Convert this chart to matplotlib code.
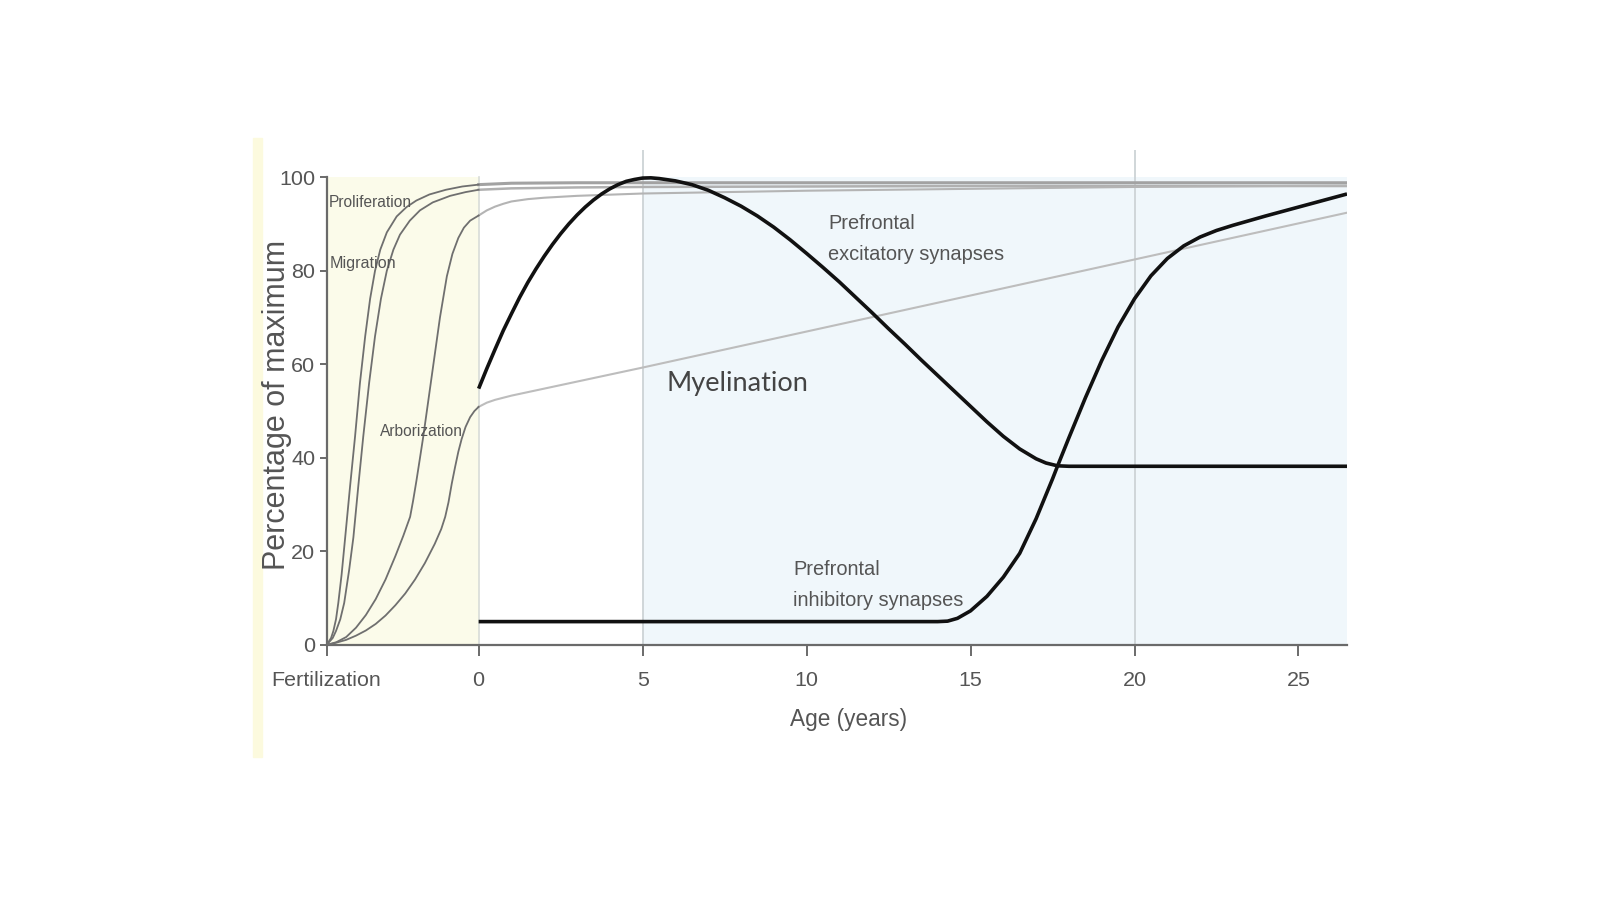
import matplotlib
matplotlib.use("Agg")
import matplotlib.pyplot as plt
from matplotlib import font_manager
from matplotlib.patches import Rectangle

# x values are years after birth; the prenatal part is squeezed left of 0
FERT = -4.64
X_END = 26.48

tick_pos = [FERT, 0, 5, 10, 15, 20, 25]
tick_labels = ["Fertilization", "0", "5", "10", "15", "20", "25"]

# prenatal curves (all start at fertilization)
prolif_x = [FERT, -4.5, -4.43, -4.35, -4.28, -4.18, -4.07, -3.92, -3.77, -3.62, -3.46,
            -3.31, -3.16, -3.0, -2.8, -2.5, -2.2, -1.9, -1.5, -1.0, -0.5, 0]
prolif_y = [0, 1.5, 3, 5.5, 9, 15, 23, 34, 44.5, 56, 66, 74, 80, 84.5, 88.2, 91.6, 93.6,
            95, 96.3, 97.3, 98, 98.4]
prolif_post_x = [0, 1, 3, 5, 10, 15, 20, X_END]
prolif_post_y = [98.4, 98.7, 98.8, 98.8, 98.8, 98.8, 98.8, 98.8]

migr_x = [FERT, -4.45, -4.35, -4.22, -4.1, -3.95, -3.82, -3.67, -3.52, -3.34, -3.16,
          -2.98, -2.8, -2.6, -2.4, -2.1, -1.79, -1.4, -0.87, -0.4, 0]
migr_y = [0, 1.5, 3, 5.5, 9, 16, 23, 34, 44.5, 56, 66, 74, 80, 84.5, 87.7, 90.7, 92.9,
          94.6, 96, 96.8, 97.3]
migr_post_x = [0, 1, 3, 5, 10, 15, 20, X_END]
migr_post_y = [97.3, 97.6, 97.8, 97.9, 98.0, 98.1, 98.1, 98.1]

third_x = [FERT, -4.34, -4.04, -3.74, -3.44, -3.14, -2.84, -2.54, -2.3, -2.09, -2.0,
           -1.9, -1.8, -1.69, -1.53, -1.33, -1.18, -0.97, -0.8, -0.62, -0.45, -0.26, 0]
third_y = [0, 0.6, 1.7, 3.7, 6.4, 9.8, 14.0, 19.0, 23.3, 27.4, 30.8, 35.0, 39.5, 44.5,
           52.5, 62.5, 70.0, 78.8, 83.6, 87.0, 89.2, 90.7, 91.8]
third_post_x = [0, 0.25, 0.5, 0.75, 1.0, 1.5, 2, 3, 5, 10, 15, 20, X_END]
third_post_y = [91.8, 92.9, 93.7, 94.3, 94.8, 95.3, 95.6, 96.0, 96.5, 97.1, 97.5, 97.9, 98.2]

arbor_x = [FERT, -4.34, -4.04, -3.74, -3.44, -3.14, -2.84, -2.54, -2.24, -1.94, -1.64,
           -1.34, -1.14, -1.02, -0.92, -0.82, -0.72, -0.62, -0.52, -0.4, -0.26, -0.13, 0]
arbor_y = [0, 0.5, 1.1, 2.0, 3.1, 4.5, 6.3, 8.5, 11.0, 14.0, 17.5, 21.6, 24.8, 27.4,
           30.5, 34.5, 38.0, 41.3, 44.0, 46.6, 48.7, 50.0, 50.9]
myel_x = [0, 0.25, 0.5, 1, 2, 5, 10, 15, 20, X_END]
myel_y = [50.9, 51.8, 52.4, 53.3, 54.8, 59.3, 67, 74.7, 82.4, 92.4]

# prefrontal synapses
exc_x = [0, 0.25, 0.5, 0.75, 1.0, 1.25, 1.5, 1.75, 2.0, 2.25, 2.5, 2.75, 3.0, 3.25,
         3.5, 3.75, 4.0, 4.25, 4.5, 4.75, 5.0, 5.25, 5.5, 6, 6.5, 7, 7.5, 8, 8.5, 9,
         9.5, 10, 10.5, 11, 11.5, 12, 12.5, 13, 13.5, 14, 14.5, 15, 15.5, 16, 16.5, 17,
         17.3, 17.65, 18, 20, 22, 24, X_END]
exc_y = [54.8, 59.1, 63.2, 67.2, 70.8, 74.3, 77.5, 80.4, 83.1, 85.6, 87.9, 90.0, 91.9,
         93.6, 95.1, 96.4, 97.5, 98.4, 99.1, 99.5, 99.8, 99.85, 99.7, 99.2, 98.4, 97.2,
         95.6, 93.8, 91.7, 89.3, 86.6, 83.7, 80.7, 77.6, 74.3, 71.0, 67.6, 64.3, 60.9,
         57.6, 54.3, 51.0, 47.7, 44.6, 41.9, 39.8, 38.9, 38.3, 38.2, 38.2, 38.2, 38.2,
         38.2]

inh_x = [0, 2, 4, 6, 8, 10, 12, 13.5, 14.0, 14.3, 14.6, 15.0, 15.5, 16.0, 16.5, 17.0,
         17.5, 17.65, 18.0, 18.5, 19.0, 19.5, 20.0, 20.5, 21.0, 21.5, 22.0, 22.5, 23.0,
         24.0, 25.0, X_END]
inh_y = [5, 5, 5, 5, 5, 5, 5, 5, 5.0, 5.1, 5.7, 7.3, 10.4, 14.5, 19.6, 27.0, 35.5, 38.2,
         44.3, 52.8, 60.8, 68.0, 74.0, 78.9, 82.6, 85.3, 87.2, 88.6, 89.7, 91.7, 93.6,
         96.4]

# pick a condensed face if there is one
installed = {f.name for f in font_manager.fontManager.ttflist}
narrow = "Liberation Sans Narrow" if "Liberation Sans Narrow" in installed else "Liberation Sans"
small = 1.0 if narrow == "Liberation Sans Narrow" else 0.86

fig = plt.figure(figsize=(16, 9), dpi=100)
fig.patch.set_facecolor("white")
# faint cream strip at the far left of the original scan
fig.patches.append(Rectangle((253 / 1600, 1 - 757 / 900), 9 / 1600, 619 / 900,
                             transform=fig.transFigure, color="#fcfade", zorder=-5))

ax = fig.add_axes([326.5 / 1600, 255 / 900, 1020.5 / 1600, 495 / 900])
ax.patch.set_alpha(0)
ax.set_xlim(FERT, X_END)
ax.set_ylim(0, 105.8)

# shaded periods
ax.fill_between([FERT, 0], 0, 100, color="#fbfbea", zorder=0, lw=0)
ax.fill_between([5, X_END], 0, 100, color="#f0f7fb", zorder=0, lw=0)
ax.plot([0, 0], [0, 100], color="#d8dcd8", lw=1.2, zorder=1)
for gx in [5, 20]:
    ax.plot([gx, gx], [0, 105.8], color="#cdd3d6", lw=1.3, zorder=1)

# gray curves
pre_col = "#6f6f6f"
for xs, ys in [(prolif_x, prolif_y), (migr_x, migr_y), (third_x, third_y), (arbor_x, arbor_y)]:
    ax.plot(xs, ys, color=pre_col, lw=1.3, zorder=3, solid_joinstyle="round")
ax.plot(prolif_post_x, prolif_post_y, color="#a2a2a2", lw=2.2, zorder=2)
ax.plot(migr_post_x, migr_post_y, color="#b0b0b0", lw=1.8, zorder=2)
ax.plot(third_post_x, third_post_y, color="#b4b4b4", lw=1.5, zorder=2)
ax.plot(myel_x, myel_y, color="#bdbdbd", lw=1.5, zorder=2)

# black curves
ax.plot(exc_x, exc_y, color="#111111", lw=2.6, zorder=4, solid_capstyle="butt",
        solid_joinstyle="round")
ax.plot(inh_x, inh_y, color="#111111", lw=2.6, zorder=4, solid_capstyle="butt",
        solid_joinstyle="round")

# axes styling
for side in ["top", "right"]:
    ax.spines[side].set_visible(False)
ax.spines["left"].set_bounds(0, 100)
for side in ["left", "bottom"]:
    ax.spines[side].set_color("#6a6a6a")
    ax.spines[side].set_linewidth(1.6)

ax.set_xticks(tick_pos)
ax.set_xticklabels(tick_labels, family=narrow, fontsize=18 * small, color="#555555")
ax.set_yticks([0, 20, 40, 60, 80, 100])
ax.set_yticklabels(["0", "20", "40", "60", "80", "100"], family=narrow,
                   fontsize=18 * small, color="#555555")
ax.tick_params(axis="x", direction="out", length=8, width=1.4, color="#6a6a6a", pad=11)
ax.tick_params(axis="y", direction="out", length=5, width=1.4, color="#6a6a6a", pad=3)

ax.set_xlabel("Age (years)", family=narrow, fontsize=19 * small, color="#555555")
ax.xaxis.set_label_coords(0.512, -0.127)
ax.set_ylabel("Percentage of maximum", family="Liberation Sans", fontsize=22, color="#555555")
ax.yaxis.set_label_coords(-0.034, 0.484)

# curve labels
lab = dict(family=narrow, color="#555555", va="center", ha="left", zorder=5)
ax.text(-4.56, 94.6, "Proliferation", fontsize=13 * small, **lab)
ax.text(-4.53, 81.6, "Migration", fontsize=13.5 * small, **lab)
ax.text(-3.0, 45.6, "Arborization", fontsize=13 * small, **lab)
ax.text(10.66, 86.8, "Prefrontal\nexcitatory synapses", fontsize=16.8 * small,
        linespacing=1.8, **lab)
ax.text(9.6, 12.8, "Prefrontal\ninhibitory synapses", fontsize=16.8 * small,
        linespacing=1.8, **lab)
ax.text(5.73, 55.9, "Myelination", family="Lato", fontsize=19.5, color="#444444",
        va="center", ha="left", zorder=5)

fig.savefig("out.png", dpi=100)
